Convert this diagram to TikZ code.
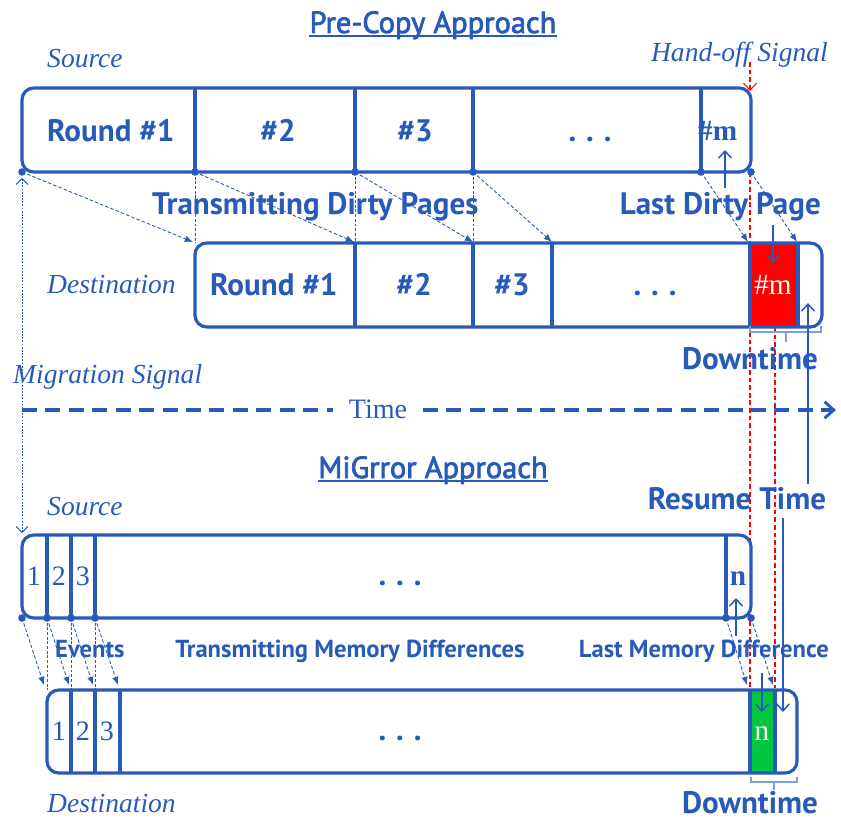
\documentclass[tikz,border=0pt]{standalone}
\usepackage{fontspec}
\setmainfont{Liberation Serif}
\newfontfamily\lblfont{PT Sans}
\newfontfamily\titlefont[FakeBold=2.5]{PT Sans}
\usetikzlibrary{arrows.meta,calc}
\definecolor{mblue}{RGB}{40,90,185}
\definecolor{lblue}{RGB}{125,160,215}
\definecolor{mred}{RGB}{255,0,0}
\definecolor{mgreen}{RGB}{0,198,64}

\begin{document}
\begin{tikzpicture}[x=0.03cm,y=-0.03cm,
  boxfill/.style={fill=white,rounded corners=10pt},
  outline/.style={draw=mblue,line width=2.7pt,rounded corners=10pt},
  divider/.style={draw=mblue,line width=2.7pt},
  boldlbl/.style={text=mblue,font=\lblfont\bfseries\fontsize{26.5}{30}\selectfont,inner sep=0pt},
  smalllbl/.style={text=mblue,font=\lblfont\bfseries\fontsize{21}{25}\selectfont,inner sep=0pt},
  titlelbl/.style={text=mblue,font=\titlefont\fontsize{26}{30}\selectfont,inner sep=0pt},
  rolelbl/.style={text=mblue,font=\itshape\fontsize{23.5}{28}\selectfont,inner sep=0pt},
  seriflbl/.style={text=mblue,font=\fontsize{24}{28}\selectfont,inner sep=0pt},
  serifbold/.style={text=mblue,font=\bfseries\fontsize{25}{28}\selectfont,inner sep=0pt},
  whitelbl/.style={text=white,font=\fontsize{25}{28}\selectfont,inner sep=0pt},
  xfer/.style={mblue,line width=0.75pt,dash pattern=on 3pt off 1.8pt,-{Latex[length=7pt,width=5.5pt]}},
  guide/.style={mblue,line width=0.6pt,dash pattern=on 2.5pt off 1.5pt},
  dotmark/.style={circle,fill=mblue,inner sep=0pt,minimum size=6.5pt},
  handoff/.style={mred,line width=0.9pt,dash pattern=on 4pt off 2.5pt},
  signal/.style={mblue,line width=0.6pt,dash pattern=on 1.5pt off 1.2pt},
  barb/.style={-{Straight Barb[length=6pt,width=11pt,line width=1.3pt]}},
  pointer/.style={mblue,line width=1.6pt,barb},
  timeaxis/.style={mblue,line width=2.8pt,dash pattern=on 12.8pt off 7.2pt},
  brace/.style={lblue,line width=1pt}
]
\useasboundingbox (0,0) rectangle (841,820);

% ---------- hand-off and downtime markers (behind the boxes) ----------
\coordinate (hoTop) at (750,62);
\coordinate (hoTip) at (750,91);
\draw[handoff,-{Straight Barb[length=6pt,width=11pt,line width=0.9pt]}] (hoTop) -- (hoTip);
\coordinate (hoA) at (750,172);
\coordinate (hoB) at (750,688);
\coordinate (dtA) at (775,327);
\coordinate (dtB) at (775,688);
\draw[handoff] (hoA) -- (hoB);
\draw[handoff] (dtA) -- (dtB);

% ---------- Time axis ----------
\node[seriflbl,anchor=base] (time) at (378,418) {Time};
\coordinate (tStart) at (22,410);
\coordinate (tGapL) at (333,410);
\coordinate (tGapR) at (423,410);
\coordinate (tEnd) at (836,410);
\draw[timeaxis] (tStart) -- (tGapL);
\draw[timeaxis,-{Straight Barb[length=8pt,width=14pt,line width=2.4pt]}] (tGapR) -- (tEnd);

% ---------- Pre-Copy: source ----------
\fill[boxfill] (22,88) rectangle (751,172);
\draw[outline] (22,88) rectangle (751,172);
\foreach \x in {195,355,473,701} \draw[divider] (\x,88) -- (\x,172);
\node[boldlbl,anchor=base west] (pr1) at (47,142) {Round \#1};
\node[boldlbl,anchor=base] (pr2) at (278,142) {\#2};
\node[boldlbl,anchor=base] (pr3) at (415,142) {\#3};
\node[boldlbl,anchor=base] (prd) at (590,142) {.\hspace{0.32em}.\hspace{0.32em}.};
\node[serifbold,anchor=base west] (prm) at (698,141) {\#m};

% ---------- Pre-Copy: destination ----------
\fill[boxfill] (195,243) rectangle (822,327);
\fill[mred] (750,243) rectangle (798,327);
\draw[outline] (195,243) rectangle (822,327);
\foreach \x in {355,473,552,750,798} \draw[divider] (\x,243) -- (\x,327);
\node[boldlbl,anchor=base west] (pd1) at (210,295) {Round \#1};
\node[boldlbl,anchor=base] (pd2) at (414,295) {\#2};
\node[boldlbl,anchor=base] (pd3) at (512,295) {\#3};
\node[boldlbl,anchor=base] (pdd) at (655,295) {.\hspace{0.32em}.\hspace{0.32em}.};
\node[whitelbl,anchor=base] (pdm) at (773,294) {\#m};

% ---------- Pre-Copy: transfers ----------
\foreach \n/\x in {0/22,1/195,2/355,3/473,4/701,5/751}
  \node[dotmark] (ps\n) at (\x,172) {};
\foreach \n/\x in {0/193,1/354,2/473,3/552,4/748,5/797}
  \coordinate (pt\n) at (\x,242);
\foreach \n/\x in {1/195,2/355,3/473}
  \coordinate (pv\n) at (\x,243);
\foreach \n in {1,2,3} \draw[guide] (ps\n.center) -- (pv\n);
\foreach \n in {0,1,2,3,4,5} \draw[xfer] (ps\n.center) -- (pt\n);

% ---------- Pre-Copy: labels ----------
\node[titlelbl,anchor=base] (pretitle) at (433,33) {Pre-Copy Approach};
\draw[mblue,line width=1.2pt] ([yshift=-2.5pt]pretitle.base west) -- ([yshift=-2.5pt]pretitle.base east);
\node[rolelbl,anchor=base west] (psrc) at (47,68) {Source};
\node[rolelbl,anchor=base west] (pdst) at (47,293) {Destination};
\node[rolelbl,anchor=base east] (hand) at (828,62) {Hand-off Signal};
\node[boldlbl,anchor=base west] (tdp) at (152,215) {Transmitting Dirty Pages};
\node[boldlbl,anchor=base east] (ldp) at (821,215) {Last Dirty Page};
\coordinate (ldpUpA) at (725,188);
\coordinate (ldpUpB) at (725,150);
\coordinate (ldpDnA) at (773,225);
\coordinate (ldpDnB) at (773,263);
\draw[pointer] (ldpUpA) -- (ldpUpB);
\draw[pointer] (ldpDnA) -- (ldpDnB);

% downtime bracket (pre-copy)
\draw[brace] (750,326) -- (750,332) -- (821,332) -- (821,326);
\draw[brace] (786,332) -- (786,342);
\node[boldlbl,anchor=base] (pdown) at (750,369) {Downtime};

% ---------- Migration signal ----------
\node[rolelbl,anchor=base west] (msig) at (13,383) {Migration Signal};
\coordinate (msA) at (22,178);
\coordinate (msB) at (22,533);
\draw[signal,{Straight Barb[length=5pt,width=10pt,line width=0.8pt]}-{Straight Barb[length=5pt,width=10pt,line width=0.8pt]}] (msA) -- (msB);

% ---------- MiGrror: source ----------
\fill[boxfill] (22,535) rectangle (751,618);
\draw[outline] (22,535) rectangle (751,618);
\foreach \x in {47,71,95,726} \draw[divider] (\x,535) -- (\x,618);
\node[seriflbl,anchor=base] (ms1t) at (34,585) {1};
\node[seriflbl,anchor=base] (ms2t) at (59,585) {2};
\node[seriflbl,anchor=base] (ms3t) at (83,585) {3};
\node[boldlbl,anchor=base] (msd) at (400,585) {.\hspace{0.32em}.\hspace{0.32em}.};
\node[serifbold,anchor=base] (msn) at (738,585) {n};

% ---------- MiGrror: destination ----------
\fill[boxfill] (47,690) rectangle (797,773);
\fill[mgreen] (750,690) rectangle (775,773);
\draw[outline] (47,690) rectangle (797,773);
\foreach \x in {71,95,120,750,775} \draw[divider] (\x,690) -- (\x,773);
\node[seriflbl,anchor=base] (md1t) at (59,740) {1};
\node[seriflbl,anchor=base] (md2t) at (83,740) {2};
\node[seriflbl,anchor=base] (md3t) at (107,740) {3};
\node[boldlbl,anchor=base] (mdd) at (400,740) {.\hspace{0.32em}.\hspace{0.32em}.};
\node[whitelbl,anchor=base] (mdn) at (762,740) {n};

% ---------- MiGrror: transfers ----------
\foreach \n/\x in {0/22,1/47,2/71,3/95,4/726,5/751}
  \node[dotmark] (ms\n) at (\x,618) {};
\foreach \n/\x in {0/44,1/69,2/93,3/118,4/747,5/773}
  \coordinate (mt\n) at (\x,685);
\foreach \n/\x in {1/47,2/71,3/95}
  \coordinate (mv\n) at (\x,690);
\foreach \n in {1,2,3} \draw[guide] (ms\n.center) -- (mv\n);
\foreach \n in {0,1,2,3,4,5} \draw[xfer] (ms\n.center) -- (mt\n);

% ---------- MiGrror: labels ----------
\node[titlelbl,anchor=base] (mirtitle) at (433,478) {MiGrror Approach};
\draw[mblue,line width=1.2pt] ([yshift=-2.5pt]mirtitle.base west) -- ([yshift=-2.5pt]mirtitle.base east);
\node[rolelbl,anchor=base west] (msrc) at (47,515) {Source};
\node[rolelbl,anchor=base west] (mdst) at (47,812) {Destination};
\node[smalllbl,anchor=base west] (events) at (55,657) {Events};
\node[smalllbl,anchor=base] (tmd) at (350,657) {Transmitting Memory Differences};
\node[smalllbl,anchor=base east] (lmd) at (829,657) {Last Memory Difference};
\coordinate (lmdUpA) at (736,636);
\coordinate (lmdUpB) at (736,598);
\coordinate (lmdDnA) at (762,673);
\coordinate (lmdDnB) at (762,712);
\draw[pointer] (lmdUpA) -- (lmdUpB);
\draw[pointer] (lmdDnA) -- (lmdDnB);

% downtime bracket (MiGrror)
\draw[brace] (751,777) -- (751,782) -- (797,782) -- (797,777);
\draw[brace] (774,782) -- (774,790);
\node[boldlbl,anchor=base] (mdown) at (750,813) {Downtime};

% ---------- Resume time ----------
\node[boldlbl,anchor=base] (resume) at (737,509) {Resume Time};
\coordinate (rsUpA) at (808,484);
\coordinate (rsUpB) at (808,303);
\coordinate (rsDnA) at (783,518);
\coordinate (rsDnB) at (783,712);
\draw[pointer] (rsUpA) -- (rsUpB);
\draw[pointer] (rsDnA) -- (rsDnB);
\end{tikzpicture}
\end{document}
